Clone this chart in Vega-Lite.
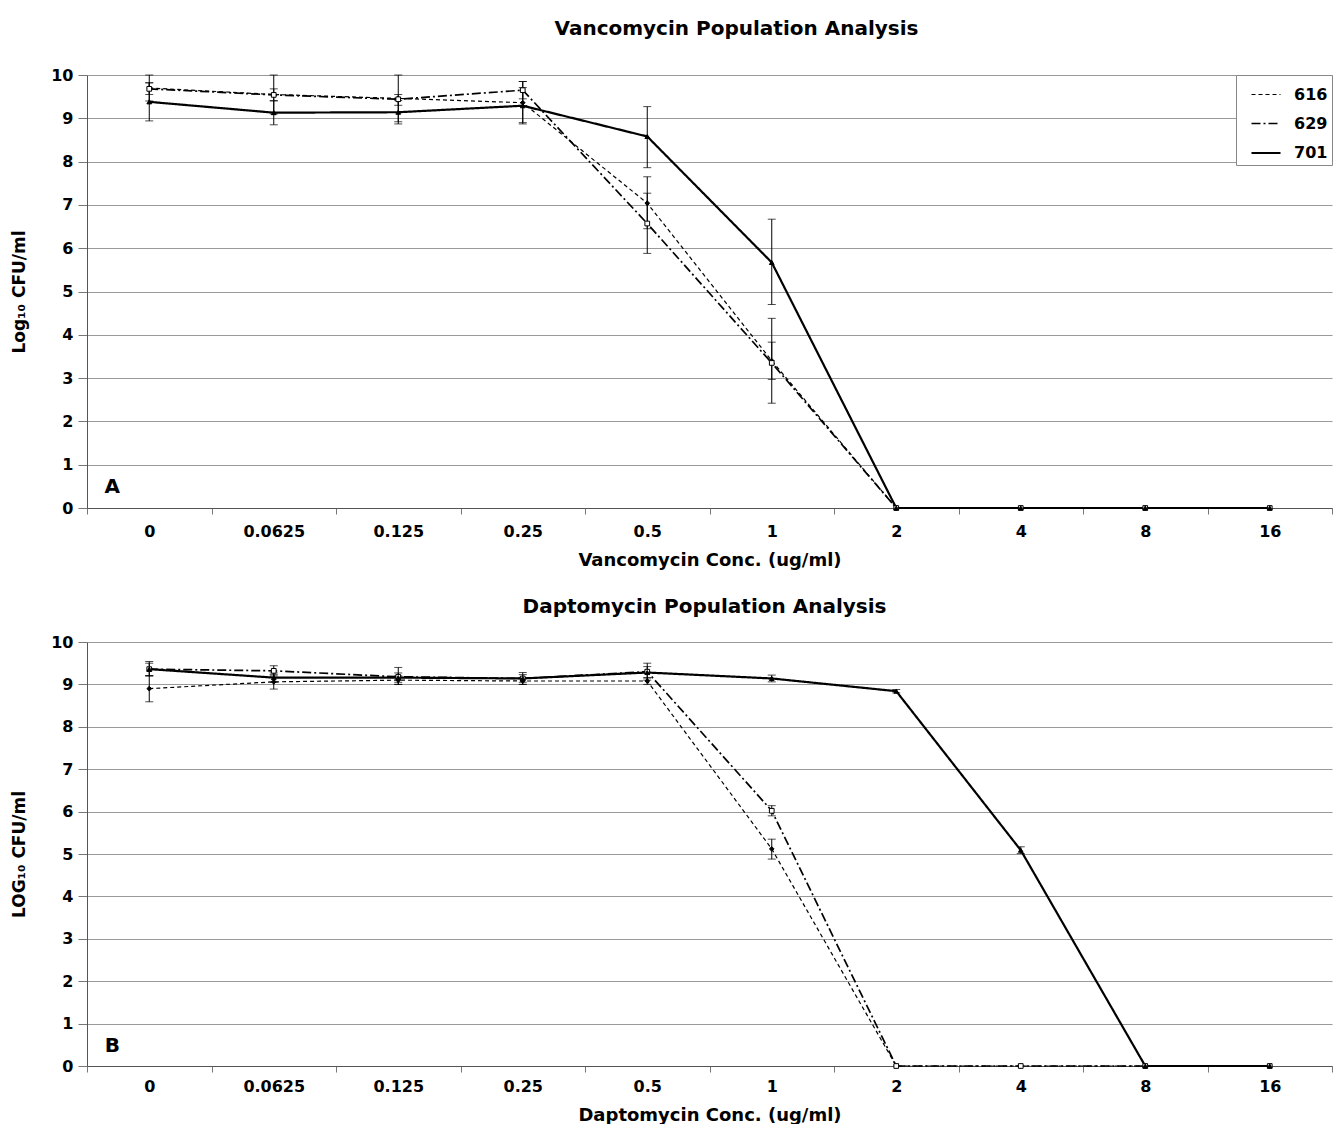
{
  "$schema": "https://vega.github.io/schema/vega-lite/v6.json",
  "background": "white",
  "padding": {"left": 10, "top": 19, "right": 0, "bottom": 0},
  "spacing": 28,
  "config": {
    "font": "DejaVu Sans",
    "view": {"stroke": null},
    "axis": {"labelFont": "DejaVu Sans", "titleFont": "DejaVu Sans", "labelFontWeight": "bold", "titleFontWeight": "bold", "labelColor": "black", "titleColor": "black", "domainColor": "#555", "tickColor": "#777"},
    "legend": {"labelFont": "DejaVu Sans"},
    "title": {"font": "DejaVu Sans"}
  },
  "datasets": {
    "vanco": [
      {"strain": "616", "conc": "0", "v": 9.70, "lo": 9.40, "hi": 10.0},
      {"strain": "616", "conc": "0.0625", "v": 9.55, "lo": 9.10, "hi": 10.0},
      {"strain": "616", "conc": "0.125", "v": 9.46, "lo": 8.92, "hi": 10.0},
      {"strain": "616", "conc": "0.25", "v": 9.36, "lo": 8.90, "hi": 9.85},
      {"strain": "616", "conc": "0.5", "v": 7.04, "lo": 6.45, "hi": 7.65},
      {"strain": "616", "conc": "1", "v": 3.40, "lo": 2.42, "hi": 4.38},
      {"strain": "616", "conc": "2", "v": 0, "lo": null, "hi": null},
      {"strain": "616", "conc": "4", "v": 0, "lo": null, "hi": null},
      {"strain": "616", "conc": "8", "v": 0, "lo": null, "hi": null},
      {"strain": "616", "conc": "16", "v": 0, "lo": null, "hi": null},
      {"strain": "629", "conc": "0", "v": 9.68, "lo": 9.55, "hi": 9.82},
      {"strain": "629", "conc": "0.0625", "v": 9.54, "lo": 9.40, "hi": 9.68},
      {"strain": "629", "conc": "0.125", "v": 9.44, "lo": 9.30, "hi": 9.55},
      {"strain": "629", "conc": "0.25", "v": 9.65, "lo": 9.45, "hi": 9.85},
      {"strain": "629", "conc": "0.5", "v": 6.57, "lo": 5.88, "hi": 7.27},
      {"strain": "629", "conc": "1", "v": 3.35, "lo": 2.97, "hi": 3.83},
      {"strain": "629", "conc": "2", "v": 0, "lo": null, "hi": null},
      {"strain": "629", "conc": "4", "v": 0, "lo": null, "hi": null},
      {"strain": "629", "conc": "8", "v": 0, "lo": null, "hi": null},
      {"strain": "629", "conc": "16", "v": 0, "lo": null, "hi": null},
      {"strain": "701", "conc": "0", "v": 9.38, "lo": 8.94, "hi": 9.82},
      {"strain": "701", "conc": "0.0625", "v": 9.13, "lo": 8.85, "hi": 9.41},
      {"strain": "701", "conc": "0.125", "v": 9.14, "lo": 8.87, "hi": 9.41},
      {"strain": "701", "conc": "0.25", "v": 9.29, "lo": 8.87, "hi": 9.71},
      {"strain": "701", "conc": "0.5", "v": 8.58, "lo": 7.86, "hi": 9.27},
      {"strain": "701", "conc": "1", "v": 5.67, "lo": 4.70, "hi": 6.67},
      {"strain": "701", "conc": "2", "v": 0, "lo": null, "hi": null},
      {"strain": "701", "conc": "4", "v": 0, "lo": null, "hi": null},
      {"strain": "701", "conc": "8", "v": 0, "lo": null, "hi": null},
      {"strain": "701", "conc": "16", "v": 0, "lo": null, "hi": null}
    ],
    "dapto": [
      {"strain": "616", "conc": "0", "v": 8.90, "lo": 8.59, "hi": 9.21},
      {"strain": "616", "conc": "0.0625", "v": 9.06, "lo": 8.89, "hi": 9.23},
      {"strain": "616", "conc": "0.125", "v": 9.10, "lo": 9.00, "hi": 9.20},
      {"strain": "616", "conc": "0.25", "v": 9.08, "lo": 9.00, "hi": 9.16},
      {"strain": "616", "conc": "0.5", "v": 9.08, "lo": 9.00, "hi": 9.16},
      {"strain": "616", "conc": "1", "v": 5.12, "lo": 4.88, "hi": 5.35},
      {"strain": "616", "conc": "2", "v": 0, "lo": null, "hi": null},
      {"strain": "616", "conc": "4", "v": 0, "lo": null, "hi": null},
      {"strain": "616", "conc": "8", "v": 0, "lo": null, "hi": null},
      {"strain": "616", "conc": "16", "v": 0, "lo": null, "hi": null},
      {"strain": "629", "conc": "0", "v": 9.36, "lo": 9.20, "hi": 9.54},
      {"strain": "629", "conc": "0.0625", "v": 9.32, "lo": 9.20, "hi": 9.44},
      {"strain": "629", "conc": "0.125", "v": 9.18, "lo": 9.00, "hi": 9.40},
      {"strain": "629", "conc": "0.25", "v": 9.14, "lo": 9.00, "hi": 9.28},
      {"strain": "629", "conc": "0.5", "v": 9.30, "lo": 9.10, "hi": 9.50},
      {"strain": "629", "conc": "1", "v": 6.02, "lo": 5.90, "hi": 6.14},
      {"strain": "629", "conc": "2", "v": 0, "lo": null, "hi": null},
      {"strain": "629", "conc": "4", "v": 0, "lo": null, "hi": null},
      {"strain": "629", "conc": "8", "v": 0, "lo": null, "hi": null},
      {"strain": "629", "conc": "16", "v": 0, "lo": null, "hi": null},
      {"strain": "701", "conc": "0", "v": 9.36, "lo": 9.20, "hi": 9.50},
      {"strain": "701", "conc": "0.0625", "v": 9.16, "lo": 9.05, "hi": 9.27},
      {"strain": "701", "conc": "0.125", "v": 9.16, "lo": 9.05, "hi": 9.27},
      {"strain": "701", "conc": "0.25", "v": 9.14, "lo": 9.05, "hi": 9.23},
      {"strain": "701", "conc": "0.5", "v": 9.28, "lo": 9.15, "hi": 9.42},
      {"strain": "701", "conc": "1", "v": 9.14, "lo": 9.06, "hi": 9.22},
      {"strain": "701", "conc": "2", "v": 8.84, "lo": 8.80, "hi": 8.88},
      {"strain": "701", "conc": "4", "v": 5.09, "lo": 5.01, "hi": 5.17},
      {"strain": "701", "conc": "8", "v": 0, "lo": null, "hi": null},
      {"strain": "701", "conc": "16", "v": 0, "lo": null, "hi": null}
    ],
    "labA": [{"conc": "0", "v": 0.48, "t": "A"}],
    "labB": [{"conc": "0", "v": 0.48, "t": "B"}]
  },
  "vconcat": [
    {
      "width": 1245, "height": 433,
      "title": {"text": "Vancomycin Population Analysis", "fontSize": 20, "fontWeight": "bold", "offset": 28, "dx": 27, "color": "black"},
      "encoding": {
        "x": {"field": "conc", "type": "nominal", "scale": {"domain": ["0", "0.0625", "0.125", "0.25", "0.5", "1", "2", "4", "8", "16"], "paddingInner": 0, "paddingOuter": 0},
          "axis": {"labelAngle": 0, "tickBand": "extent", "tickSize": 6, "labelFontSize": 16, "labelPadding": 9, "title": "Vancomycin Conc. (ug/ml)", "titleFontSize": 18, "titlePadding": 12, "grid": false}}
      },
      "layer": [
        {
          "data": {"name": "vanco"},
          "mark": {"type": "line", "color": "black"},
          "encoding": {
            "y": {"field": "v", "type": "quantitative", "scale": {"domain": [0, 10]}, "title": "Log₁₀ CFU/ml",
              "axis": {"values": [0,1,2,3,4,5,6,7,8,9,10], "grid": true, "gridColor": "#999", "gridWidth": 1, "tickSize": 9, "labelFontSize": 16, "labelPadding": 5, "titleFontSize": 17, "titlePadding": 22}},
            "strokeDash": {"field": "strain", "type": "nominal", "scale": {"domain": ["616", "629", "701"], "range": [[4, 3], [9, 3, 2, 3], [1, 0]]},
              "legend": {"title": null, "orient": "top-right", "offset": 0, "symbolType": "stroke", "symbolStrokeColor": "black", "symbolStrokeWidth": 1.5, "symbolSize": 841, "symbolOffset": 10, "labelOffset": 12, "labelFontSize": 16, "labelFontWeight": "bold", "labelColor": "black", "rowPadding": 5, "padding": 4, "fillColor": "white", "strokeColor": "#888"}},
            "strokeWidth": {"field": "strain", "type": "ordinal", "scale": {"domain": ["616", "629", "701"], "range": [1.2, 2.2, 2.2]}, "legend": null}
          }
        },
        {
          "data": {"name": "vanco"},
          "transform": [{"filter": "datum.lo != null"}],
          "mark": {"type": "errorbar", "ticks": {"size": 8}, "color": "black", "thickness": 1},
          "encoding": {"y": {"field": "lo", "type": "quantitative", "title": "Log₁₀ CFU/ml"}, "y2": {"field": "hi"}}
        },
        {
          "data": {"name": "vanco"},
          "mark": {"type": "point", "size": 22, "stroke": "black", "strokeWidth": 1, "opacity": 1, "filled": false},
          "encoding": {
            "y": {"field": "v", "type": "quantitative", "title": "Log₁₀ CFU/ml"},
            "shape": {"condition": [{"test": "datum.strain == '616'", "value": "diamond"}, {"test": "datum.strain == '629'", "value": "square"}], "value": "triangle-up"},
            "fill": {"condition": {"test": "datum.strain == '629'", "value": "white"}, "value": "black"}
          }
        },
        {
          "data": {"name": "labA"},
          "mark": {"type": "text", "fontSize": 20, "fontWeight": "bold", "dx": -37, "color": "black"},
          "encoding": {"y": {"field": "v", "type": "quantitative", "title": "Log₁₀ CFU/ml"}, "text": {"field": "t"}}
        }
      ]
    },
    {
      "width": 1245, "height": 424,
      "title": {"text": "Daptomycin Population Analysis", "fontSize": 20, "fontWeight": "bold", "offset": 17, "dx": -5, "color": "black"},
      "encoding": {
        "x": {"field": "conc", "type": "nominal", "scale": {"domain": ["0", "0.0625", "0.125", "0.25", "0.5", "1", "2", "4", "8", "16"], "paddingInner": 0, "paddingOuter": 0},
          "axis": {"labelAngle": 0, "tickBand": "extent", "tickSize": 6, "labelFontSize": 16, "labelPadding": 6, "title": "Daptomycin Conc. (ug/ml)", "titleFontSize": 18, "titlePadding": 12, "grid": false}}
      },
      "layer": [
        {
          "data": {"name": "dapto"},
          "mark": {"type": "line", "color": "black"},
          "encoding": {
            "y": {"field": "v", "type": "quantitative", "scale": {"domain": [0, 10]}, "title": "LOG₁₀ CFU/ml",
              "axis": {"values": [0,1,2,3,4,5,6,7,8,9,10], "grid": true, "gridColor": "#999", "gridWidth": 1, "tickSize": 9, "labelFontSize": 16, "labelPadding": 5, "titleFontSize": 17, "titlePadding": 22}},
            "strokeDash": {"field": "strain", "type": "nominal", "scale": {"domain": ["616", "629", "701"], "range": [[4, 3], [9, 3, 2, 3], [1, 0]]},
              "legend": {"title": null, "orient": "top-right", "offset": 0, "symbolType": "stroke", "symbolStrokeColor": "black", "symbolStrokeWidth": 1.5, "symbolSize": 841, "symbolOffset": 10, "labelOffset": 12, "labelFontSize": 16, "labelFontWeight": "bold", "labelColor": "black", "rowPadding": 5, "padding": 3, "fillColor": "white", "strokeColor": "#888"}},
            "strokeWidth": {"field": "strain", "type": "ordinal", "scale": {"domain": ["616", "629", "701"], "range": [1.2, 2.2, 2.2]}, "legend": null}
          }
        },
        {
          "data": {"name": "dapto"},
          "transform": [{"filter": "datum.lo != null"}],
          "mark": {"type": "errorbar", "ticks": {"size": 8}, "color": "black", "thickness": 1},
          "encoding": {"y": {"field": "lo", "type": "quantitative", "title": "LOG₁₀ CFU/ml"}, "y2": {"field": "hi"}}
        },
        {
          "data": {"name": "dapto"},
          "mark": {"type": "point", "size": 22, "stroke": "black", "strokeWidth": 1, "opacity": 1, "filled": false},
          "encoding": {
            "y": {"field": "v", "type": "quantitative", "title": "LOG₁₀ CFU/ml"},
            "shape": {"condition": [{"test": "datum.strain == '616'", "value": "diamond"}, {"test": "datum.strain == '629'", "value": "square"}], "value": "triangle-up"},
            "fill": {"condition": {"test": "datum.strain == '629'", "value": "white"}, "value": "black"}
          }
        },
        {
          "data": {"name": "labB"},
          "mark": {"type": "text", "fontSize": 20, "fontWeight": "bold", "dx": -37, "color": "black"},
          "encoding": {"y": {"field": "v", "type": "quantitative", "title": "LOG₁₀ CFU/ml"}, "text": {"field": "t"}}
        }
      ]
    }
  ]
}
